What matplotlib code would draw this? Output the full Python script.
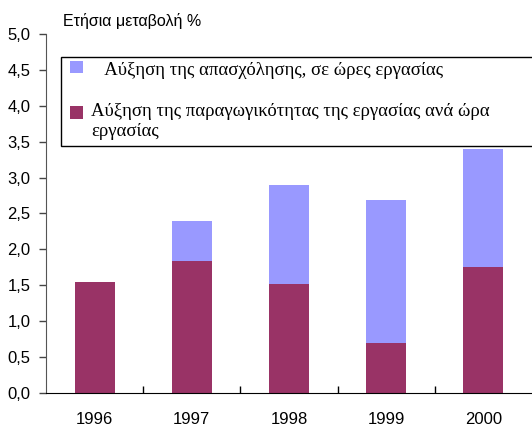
import numpy as np
import matplotlib.pyplot as plt
from matplotlib import font_manager
from matplotlib.patches import Rectangle
from matplotlib.legend_handler import HandlerPatch
from matplotlib.ticker import FuncFormatter, FixedLocator

years = ["1996", "1997", "1998", "1999", "2000"]
productivity = [1.55, 1.84, 1.52, 0.70, 1.75]
employment = [0.00, 0.56, 1.38, 1.99, 1.65]

label_emp = "   Αύξηση της απασχόλησης, σε ώρες εργασίας"
label_prod = "Αύξηση της παραγωγικότητας της εργασίας ανά ώρα\nεργασίας"
ylabel = "Ετήσια μεταβολή %"

c_emp = "#9999FF"
c_prod = "#993366"


def square(shift):
    # legend square, nudged up by `shift` points
    def f(legend, orig_handle, xdescent, ydescent, width, height, fontsize):
        return Rectangle((-xdescent, -ydescent + shift), width, height)
    return f


def main():
    names = {f.name for f in font_manager.fontManager.ttflist}
    sans = "Liberation Sans Narrow" if "Liberation Sans Narrow" in names else "Liberation Sans"

    fig = plt.figure(figsize=(5.32, 4.29), dpi=100)
    ax = fig.add_axes([0.0865, 0.084, 0.9135, 0.837])

    x = np.arange(len(years))
    b1 = ax.bar(x, productivity, width=0.41, color=c_prod, label=label_prod)
    b2 = ax.bar(x, employment, width=0.41, bottom=productivity, color=c_emp,
                label=label_emp)

    ax.set_xlim(-0.5, len(years) - 0.5)
    ax.set_ylim(0, 5.0)
    ax.set_yticks(np.arange(0, 5.01, 0.5))
    ax.yaxis.set_major_formatter(FuncFormatter(lambda v, p: f"{v:.1f}".replace(".", ",")))

    # ticks between categories, labels at centres
    ax.xaxis.set_major_locator(FixedLocator(x[:-1] + 0.5))
    ax.xaxis.set_minor_locator(FixedLocator(x))
    ax.set_xticklabels([])
    ax.set_xticklabels(years, minor=True)
    ax.tick_params(axis="x", which="major", direction="in", length=5, width=1)
    ax.tick_params(axis="x", which="minor", length=0, pad=14)
    ax.tick_params(axis="y", direction="out", length=5, width=1, color="#444444", pad=6)

    for lab in ax.get_xticklabels(minor=True) + ax.get_yticklabels():
        lab.set_fontfamily(sans)
        lab.set_fontsize(12)

    for s in ["top", "right"]:
        ax.spines[s].set_visible(False)
    ax.spines["left"].set_color("#555555")
    ax.spines["bottom"].set_color("black")

    fig.text(0.118, 0.951, ylabel, fontfamily=sans, fontsize=11.5,
             va="center", ha="left")

    h_emp = b2.patches[0]
    h_prod = b1.patches[0]
    hmap = {h_emp: HandlerPatch(patch_func=square(1.5), xpad=0.2),
            h_prod: HandlerPatch(patch_func=square(6.5), xpad=0.2)}
    leg = ax.legend([h_emp, h_prod], [label_emp, label_prod], loc="upper left",
                    bbox_to_anchor=(0.031, 0.936, 0.975, 0.0), mode="expand",
                    borderaxespad=0, fancybox=False, edgecolor="black",
                    framealpha=1, handlelength=0.85, handleheight=0.65,
                    handletextpad=0.45, labelspacing=1.27, borderpad=0.3,
                    handler_map=hmap,
                    prop={"family": "Liberation Serif", "size": 13.5})
    leg.get_frame().set_linewidth(1.0)

    fig.savefig("out.png", dpi=100)


if __name__ == "__main__":
    main()
